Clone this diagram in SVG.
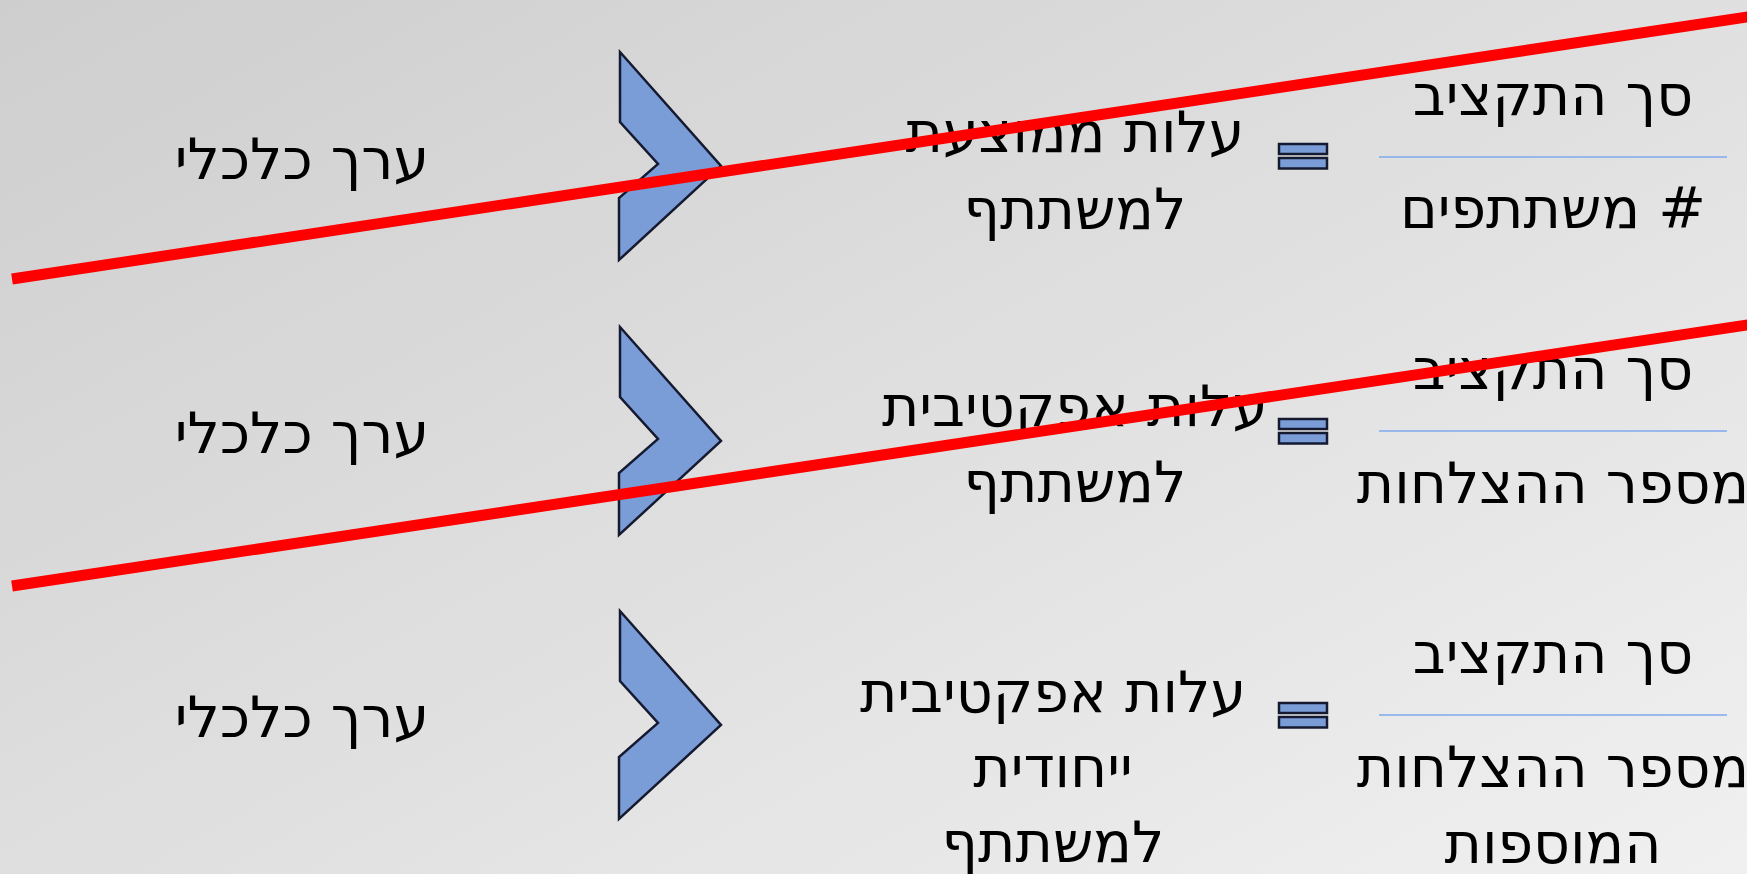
<svg xmlns="http://www.w3.org/2000/svg" width="1747" height="874" viewBox="0 0 1747 874">
<style>
text{font-family:"DejaVu Sans","Noto Sans",sans-serif;font-size:57px;fill:#000;text-anchor:middle;direction:rtl}
.chev{fill:#7b9dd7;stroke:#151a30;stroke-width:2.5;stroke-linejoin:miter}
.bar{fill:#7b9dd7;stroke:#151a30;stroke-width:2.5}
.frac{stroke:#7ea8f0;stroke-width:1.6}
.strike{stroke:#ff0000;stroke-width:11;stroke-linecap:butt}
</style>
<defs>
<linearGradient id="bg" gradientUnits="userSpaceOnUse" x1="0" y1="0" x2="751" y2="1395">
<stop offset="0" stop-color="#cfcecf"/>
<stop offset="1" stop-color="#f0f0f0"/>
</linearGradient>
<polygon id="chevron" points="620,52 721,166 619,260 619,198 658,164 620,122"/>
<g id="eq"><rect x="1279" y="-12" width="48" height="10"/><rect x="1279" y="2" width="48" height="10.5"/></g>
</defs>
<rect width="1747" height="874" fill="url(#bg)"/>

<g id="row1">
<g id="n1-left"><text x="302" y="179">ערך כלכלי</text></g>
<g id="n1-chevron"><use href="#chevron" class="chev"/></g>
<g id="n1-mid"><text x="1075" y="152">עלות ממוצעת</text><text x="1075" y="229">למשתתף</text></g>
<g id="n1-eq" class="bar" transform="translate(0,156)"><use href="#eq"/></g>
<g id="n1-frac"><text x="1553" y="115">סך התקציב</text><line class="frac" x1="1379" y1="157" x2="1727" y2="157"/><text x="1553" y="228"># משתתפים</text></g>
</g>

<g id="row2">
<g id="n2-left"><text x="302" y="453">ערך כלכלי</text></g>
<g id="n2-chevron" transform="translate(0,275)"><use href="#chevron" class="chev"/></g>
<g id="n2-mid"><text x="1075" y="426">עלות אפקטיבית</text><text x="1075" y="502">למשתתף</text></g>
<g id="n2-eq" class="bar" transform="translate(0,431)"><use href="#eq"/></g>
<g id="n2-frac"><text x="1553" y="389">סך התקציב</text><line class="frac" x1="1379" y1="431" x2="1727" y2="431"/><text x="1553" y="503">מספר ההצלחות</text></g>
</g>

<g id="row3">
<g id="n3-left"><text x="302" y="737">ערך כלכלי</text></g>
<g id="n3-chevron" transform="translate(0,559)"><use href="#chevron" class="chev"/></g>
<g id="n3-mid"><text x="1053" y="712">עלות אפקטיבית</text><text x="1053" y="787">ייחודית</text><text x="1053" y="862">למשתתף</text></g>
<g id="n3-eq" class="bar" transform="translate(0,715)"><use href="#eq"/></g>
<g id="n3-frac"><text x="1553" y="673">סך התקציב</text><line class="frac" x1="1379" y1="715" x2="1727" y2="715"/><text x="1553" y="787">מספר ההצלחות</text><text x="1553" y="863">המוספות</text></g>
</g>

<g id="connectors">
<line class="strike" x1="12" y1="279" x2="1760" y2="15"/>
<line class="strike" x1="12" y1="586" x2="1760" y2="323"/>
</g>
</svg>
